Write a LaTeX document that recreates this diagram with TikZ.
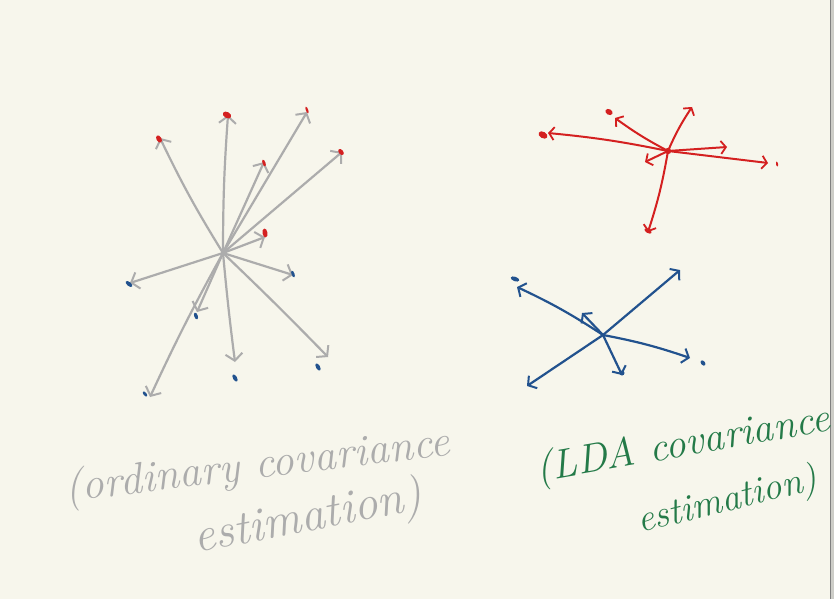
\documentclass[tikz,border=0pt]{standalone}
\usetikzlibrary{arrows.meta}
\definecolor{bgc}{RGB}{247,246,236}
\definecolor{gcol}{RGB}{172,172,172}
\definecolor{rcol}{RGB}{212,32,32}
\definecolor{bcol}{RGB}{34,82,142}
\definecolor{gtxt}{RGB}{36,122,72}
\definecolor{edgec}{RGB}{205,205,200}
\tikzset{
  garrow/.style={draw=gcol, line width=2.2pt, line cap=round, -{Straight Barb[length=7pt,width=17pt,line width=2pt]}},
  rarrow/.style={draw=rcol, line width=2pt, line cap=round, -{Straight Barb[length=5pt,width=13pt,line width=1.8pt]}},
  barrow/.style={draw=bcol, line width=2.2pt, line cap=round, -{Straight Barb[length=6pt,width=15pt,line width=2pt]}},
  rdot/.style={fill=rcol},
  bdot/.style={fill=bcol},
  hand/.style={inner sep=0pt, anchor=base west, font=\itshape\fontsize{38}{44}\selectfont}
}
\begin{document}
\begin{tikzpicture}[x=1pt,y=-1pt]
\path[use as bounding box, fill=bgc] (0,0) rectangle (834,599);
\fill[edgec] (830,0) rectangle (834,599);
\draw[gray, line width=0.8pt] (830.5,0) -- (830.5,599);

% ---------- gray (ordinary) cluster ----------
\coordinate (gc) at (223,253);
\coordinate (g1) at (160,138);
\coordinate (g2) at (228,115);
\coordinate (g3) at (307,112);
\coordinate (g4) at (264,162);
\coordinate (g5) at (342,152);
\coordinate (g6) at (265,237);
\coordinate (g7) at (130,283);
\coordinate (g8) at (293,275);
\coordinate (g9) at (197,312);
\coordinate (g10) at (150,397);
\coordinate (g11) at (235,362);
\coordinate (g12) at (328,357);
\draw[garrow] (gc) to[bend left=3] (g1);
\draw[garrow] (gc) to[bend left=2] (g2);
\draw[garrow] (gc) -- (g3);
\draw[garrow] (gc) -- (g4);
\draw[garrow] (gc) -- (g5);
\draw[garrow] (gc) -- (g6);
\draw[garrow] (gc) -- (g7);
\draw[garrow] (gc) -- (g8);
\draw[garrow] (gc) -- (g9);
\draw[garrow] (gc) to[bend right=2] (g10);
\draw[garrow] (gc) to[bend right=1] (g11);
\draw[garrow] (gc) to[bend left=1] (g12);
% red marks on gray arrows
\fill[rdot, rotate around={30:(159,139)}] (159,139) ellipse (2.5 and 4);
\fill[rdot, rotate around={60:(227,115)}] (227,115) ellipse (3 and 4.5);
\fill[rdot, rotate around={20:(307,110)}] (307,110) ellipse (1.2 and 3.5);
\fill[rdot, rotate around={20:(264,163)}] (264,163) ellipse (1.5 and 3.5);
\fill[rdot, rotate around={40:(341,152)}] (341,152) ellipse (2.2 and 3.5);
\fill[rdot, rotate around={10:(265,233)}] (265,233) ellipse (2.5 and 4.5);
% blue marks on gray arrows
\fill[bdot, rotate around={50:(129,284)}] (129,284) ellipse (2 and 4);
\fill[bdot, rotate around={20:(293,274)}] (293,274) ellipse (1.5 and 3.5);
\fill[bdot, rotate around={20:(196,316)}] (196,316) ellipse (1.8 and 3.5);
\fill[bdot, rotate around={40:(145,394)}] (145,394) ellipse (1.5 and 3);
\fill[bdot, rotate around={30:(235,378)}] (235,378) ellipse (2 and 4);
\fill[bdot, rotate around={30:(318,367)}] (318,367) ellipse (2 and 4);

% ---------- red cluster ----------
\coordinate (rc) at (668,151);
\coordinate (r1) at (548,133);
\coordinate (r2) at (615,118);
\coordinate (r3) at (692,107);
\coordinate (r4) at (727,147);
\coordinate (r5) at (768,163);
\coordinate (r6) at (645,162);
\coordinate (r7) at (648,232);
\draw[rarrow] (rc) to[bend right=3] (r1);
\draw[rarrow] (rc) to[bend left=4] (r2);
\draw[rarrow] (rc) to[bend left=5] (r3);
\draw[rarrow] (rc) -- (r4);
\draw[rarrow] (rc) -- (r5);
\draw[rarrow] (rc) -- (r6);
\draw[rarrow] (rc) to[bend left=4] (r7);
\fill[rdot] (rc) circle (3.2);
\fill[rdot, rotate around={60:(543,135)}] (543,135) ellipse (3.2 and 4.8);
\fill[rdot, rotate around={60:(609,112)}] (609,112) ellipse (2.8 and 3.8);
\fill[rdot, rotate around={10:(777,164)}] (777,164) ellipse (1 and 2.5);
\fill[rdot, rotate around={60:(648,231)}] (648,231) ellipse (2 and 4);

% ---------- blue cluster ----------
\coordinate (bc) at (603,335);
\coordinate (b1) at (517,287);
\coordinate (b2) at (680,270);
\coordinate (b3) at (527,386);
\coordinate (b4) at (690,358);
\coordinate (b5) at (622,375);
\coordinate (b6) at (582,313);
\draw[barrow] (bc) to[bend right=4] (b1);
\draw[barrow] (bc) -- (b2);
\draw[barrow] (bc) -- (b3);
\draw[barrow] (bc) to[bend left=4] (b4);
\draw[barrow] (bc) -- (b5);
\draw[barrow] (bc) -- (b6);
\fill[bdot, rotate around={70:(515,279)}] (515,279) ellipse (2.2 and 4.5);
\fill[bdot, rotate around={40:(703,363)}] (703,363) ellipse (2 and 3);
\fill[bdot] (622,373) circle (2.5);

% ---------- labels ----------
\node[hand, text=gcol, rotate=7, font=\itshape\fontsize{44}{50}\selectfont] (t1) at (66,502) {(ordinary covariance};
\node[hand, text=gcol, rotate=11, font=\itshape\fontsize{48}{54}\selectfont] (t2) at (196,553) {estimation)};
\node[hand, text=gtxt, rotate=10, font=\itshape\fontsize{41}{47}\selectfont] (t3) at (538,482) {(LDA covariance};
\node[hand, text=gtxt, rotate=14] (t4) at (640,533) {estimation)};
\end{tikzpicture}
\end{document}
